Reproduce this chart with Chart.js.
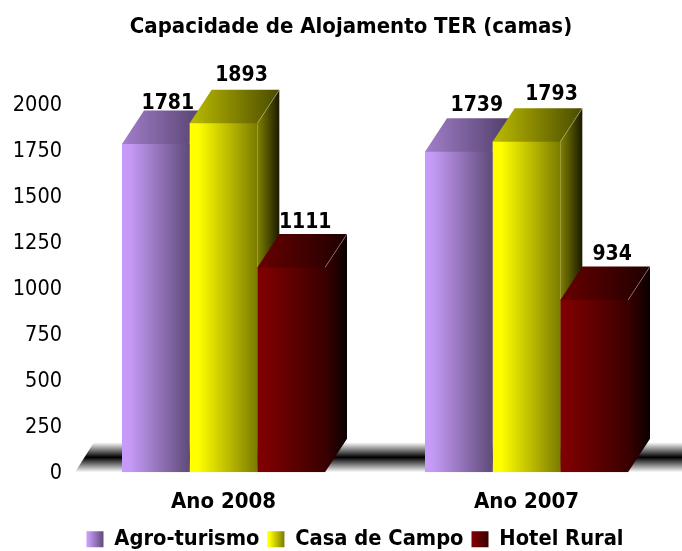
<!DOCTYPE html>
<html><head><meta charset="utf-8">
<style>html,body{margin:0;padding:0;background:#fff}#w{width:682px;height:551px}</style>
<script src="https://cdn.jsdelivr.net/npm/chart.js@4"></script>
</head><body><div id="w"><canvas id="c"></canvas></div>
<script>
const chartTitle = 'Capacidade de Alojamento TER (camas)';
const categories = ['Ano 2008', 'Ano 2007'];
const agroTurismo = [1781, 1739];
const casaDeCampo = [1893, 1793];
const hotelRural = [1111, 934];
const seriesNames = ['Agro-turismo', 'Casa de Campo', 'Hotel Rural'];
const yMax = 2000, yStep = 250;

const FONT = "'DejaVu Sans Condensed','DejaVu Sans',sans-serif";
const DEPTH_X = 22, DEPTH_Y = 33.5, CAT_PCT = 0.67;
const labelNudgeX = [[12, 18], [18, 25], [14, 18]];
const labelGapY = [[40, 46], [48, 47.5], [44.5, 45.5]];
const faces = [
  {front:['#c89bfb','#c49af5','#5f4a78'], top:['#a27fcb','#4c3a63'], side:['#5f4a78','#2f253c']},
  {front:['#ffff00','#ffff00','#7b7b00'], top:['#bcbc00','#4a4a00'], side:['#808000','#1a1a00']},
  {front:['#800000','#7c0000','#3a0000'], top:['#680000','#1f0000'], side:['#3c0000','#0a0000']}
];

function hGrad(ctx, x0, x1, cols) {
  const g = ctx.createLinearGradient(x0, 0, x1, 0);
  cols.forEach((c, i) => g.addColorStop(cols.length === 3 ? [0, .12, 1][i] : i / (cols.length - 1), c));
  return g;
}
function frontFill(ds) {
  return (c) => {
    const x = c.chart.scales.x;
    if (!x || !x.width || c.dataIndex === undefined) return faces[ds].front[0];
    const bw = (x.width / categories.length) * CAT_PCT / 3;
    const left = x.getPixelForTick(c.dataIndex) - 1.5 * bw + ds * bw;
    return hGrad(c.chart.ctx, left, left + bw, faces[ds].front);
  };
}

const threeD = {
  id: 'threeD',
  afterLayout(chart) {
    const l = chart.legend, t = chart.titleBlock;
    l.left += 16; l.right += 16; l.top += 11; l.bottom += 11; l.adjustHitBoxes();
    t.left += 12; t.right += 12;
  },
  beforeDraw(chart) {
    const l = chart.legend;
    l.legendItems.forEach((it, i) => {
      const h = l.legendHitBoxes[i];
      it.fillStyle = hGrad(chart.ctx, h.left, h.left + l.options.labels.boxWidth, faces[i].front);
    });
  },
  beforeDatasetsDraw(chart) {
    const {ctx, chartArea: a, width} = chart;
    const top = a.bottom - 30, fx = a.left + 3, dx = 19;
    const g = ctx.createLinearGradient(0, top, 0, a.bottom);
    g.addColorStop(0, '#ffffff'); g.addColorStop(.5, '#000000'); g.addColorStop(1, '#ffffff');
    ctx.save(); ctx.fillStyle = g; ctx.beginPath();
    ctx.moveTo(fx, a.bottom); ctx.lineTo(fx + dx, top); ctx.lineTo(width, top); ctx.lineTo(width, a.bottom);
    ctx.closePath(); ctx.fill(); ctx.restore();
    const base = chart.scales.y.getPixelForValue(0);
    chart.data.datasets.forEach((d, ds) => {
      const f = faces[ds];
      chart.getDatasetMeta(ds).data.forEach((el) => {
        const r = el.x + el.width / 2, l = el.x - el.width / 2, t = el.y;
        ctx.save();
        ctx.fillStyle = hGrad(ctx, r, r + DEPTH_X, f.side);
        ctx.beginPath();
        ctx.moveTo(r, t); ctx.lineTo(r + DEPTH_X, t - DEPTH_Y); ctx.lineTo(r + DEPTH_X, base - DEPTH_Y); ctx.lineTo(r, base);
        ctx.closePath(); ctx.fill();
        ctx.fillStyle = hGrad(ctx, l, r + DEPTH_X, f.top);
        ctx.beginPath();
        ctx.moveTo(l, t + 1); ctx.lineTo(l, t); ctx.lineTo(l + DEPTH_X, t - DEPTH_Y); ctx.lineTo(r + DEPTH_X, t - DEPTH_Y); ctx.lineTo(r, t); ctx.lineTo(r, t + 1);
        ctx.closePath(); ctx.fill();
        ctx.strokeStyle = 'rgba(255,255,255,0.28)'; ctx.lineWidth = 1;
        ctx.beginPath(); ctx.moveTo(r, t); ctx.lineTo(r + DEPTH_X, t - DEPTH_Y); ctx.stroke();
        ctx.restore();
      });
    });
  },
  afterDatasetsDraw(chart) {
    const ctx = chart.ctx;
    ctx.save();
    ctx.font = 'bold 21px ' + FONT; ctx.fillStyle = '#000';
    ctx.textAlign = 'center'; ctx.textBaseline = 'middle';
    chart.data.datasets.forEach((d, ds) => {
      chart.getDatasetMeta(ds).data.forEach((el, i) => {
        ctx.fillText(String(d.data[i]), el.x + labelNudgeX[ds][i], el.y - labelGapY[ds][i]);
      });
    });
    ctx.restore();
  }
};

new Chart(document.getElementById('c'), {
  type: 'bar',
  plugins: [threeD],
  data: {
    labels: categories,
    datasets: [agroTurismo, casaDeCampo, hotelRural].map((vals, i) => ({
      label: seriesNames[i], data: vals,
      backgroundColor: frontFill(i), borderWidth: 0,
      barPercentage: 1, categoryPercentage: CAT_PCT
    }))
  },
  options: {
    responsive: true, maintainAspectRatio: false, animation: false,
    layout: {padding: {left: 0, right: 4, top: 0, bottom: 2}},
    plugins: {
      tooltip: {enabled: false},
      title: {display: true, text: chartTitle, color: '#000',
        font: {family: FONT, size: 22, weight: 'bold', lineHeight: 1.2},
        padding: {top: 14, bottom: 63.2}},
      legend: {position: 'bottom', onClick: null,
        labels: {boxWidth: 17, boxHeight: 16, padding: 8, color: '#000',
          font: {family: FONT, size: 21.7, weight: 'bold'},
          generateLabels: (ch) => ch.data.datasets.map((d, i) => ({
            text: d.label, fillStyle: faces[i].front[0], strokeStyle: 'transparent', lineWidth: 0, datasetIndex: i, fontColor: '#000'
          }))}}
    },
    scales: {
      y: {min: 0, max: yMax, grid: {display: false}, border: {display: false},
        afterFit: (s) => { s.width = 72; },
        ticks: {stepSize: yStep, padding: 2, labelOffset: 1.5, color: '#000', font: {family: FONT, size: 21.5},
          callback: (v) => String(v)}},
      x: {grid: {display: false}, border: {display: false},
        afterFit: (s) => { s.height = 37; },
        ticks: {padding: 9, color: '#000', font: {family: FONT, size: 22, weight: 'bold'}, maxRotation: 0}}
    }
  }
});
</script></body></html>
